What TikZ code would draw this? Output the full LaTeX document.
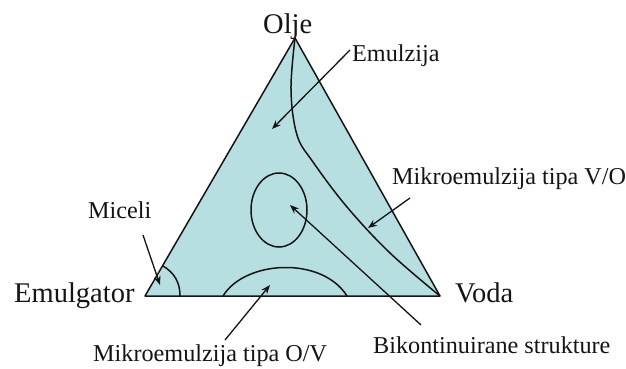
\documentclass[tikz,border=0pt]{standalone}
\usepackage{fontspec}
\setmainfont{Liberation Serif}
\usetikzlibrary{arrows.meta,shapes.geometric}
\definecolor{tfill}{RGB}{183,223,225}
\definecolor{ink}{RGB}{20,20,20}
\begin{document}
\begin{tikzpicture}[x=1pt,y=-1pt,
  edge/.style={draw=ink,line width=1.5pt,line join=round},
  ptr/.style={draw=ink,line width=1.3pt,-{Stealth[length=9pt,width=7pt]}},
  biglbl/.style={inner sep=0pt,anchor=base west,text=ink,font=\fontsize{28.5}{30}\selectfont},
  lbl/.style={inner sep=0pt,anchor=base west,text=ink,font=\fontsize{24.2}{26}\selectfont}]
\useasboundingbox (0,0) rectangle (626,369);
% vertices
\coordinate (A) at (295,38);
\coordinate (L) at (145,296);
\coordinate (R) at (440,296);
\fill[tfill] (A) -- (L) -- (R) -- cycle;
% V/O boundary curve
\draw[edge] plot[smooth,tension=0.6] coordinates {(295,38) (291,90) (297,135) (313,162) (347,207) (390,253) (440,296)};
% bicontinuous region
\node[draw=ink,line width=1.5pt,ellipse,minimum width=56pt,minimum height=74pt,inner sep=0pt] (bic) at (279,210) {};
% O/V arc
\coordinate (ov1) at (223,296);
\coordinate (ov2) at (347,296);
\draw[edge] (ov1) .. controls (245,260) and (322,256) .. (ov2);
% micelle arc
\coordinate (m1) at (180,296);
\coordinate (m2) at (162.5,265.7);
\draw[edge] (m1) to[bend right=30] (m2);
% triangle
\draw[edge] (A) -- (L) -- (R) -- cycle;
% labels
\node[biglbl] (olje) at (263,34) {Olje};
\node[biglbl] (emg) at (14,302) {Emulgator};
\node[biglbl] (voda) at (455,302) {Voda};
\node[lbl] (emz) at (352,61) {Emulzija};
\node[lbl] (mic) at (88,218) {Miceli};
\node[lbl] (vo) at (392,184) {Mikroemulzija tipa V/O};
\node[lbl] (bk) at (373,353) {Bikontinuirane strukture};
\node[lbl] (ovl) at (93,361) {Mikroemulzija tipa O/V};
% arrows
\coordinate (tEmz) at (272,129);
\coordinate (sEmz) at (350,50);
\draw[ptr] (sEmz) -- (tEmz);
\coordinate (sVo) at (410,198);
\coordinate (tVo) at (368,228);
\draw[ptr] (sVo) -- (tVo);
\coordinate (sBk) at (421,325);
\coordinate (tBk) at (290,205);
\draw[ptr] (sBk) -- (tBk);
\coordinate (sOv) at (225,340);
\coordinate (tOv) at (270,285);
\draw[ptr] (sOv) -- (tOv);
\coordinate (sMic) at (143,235);
\coordinate (tMic) at (160,285);
\draw[ptr] (sMic) -- (tMic);
\end{tikzpicture}
\end{document}
